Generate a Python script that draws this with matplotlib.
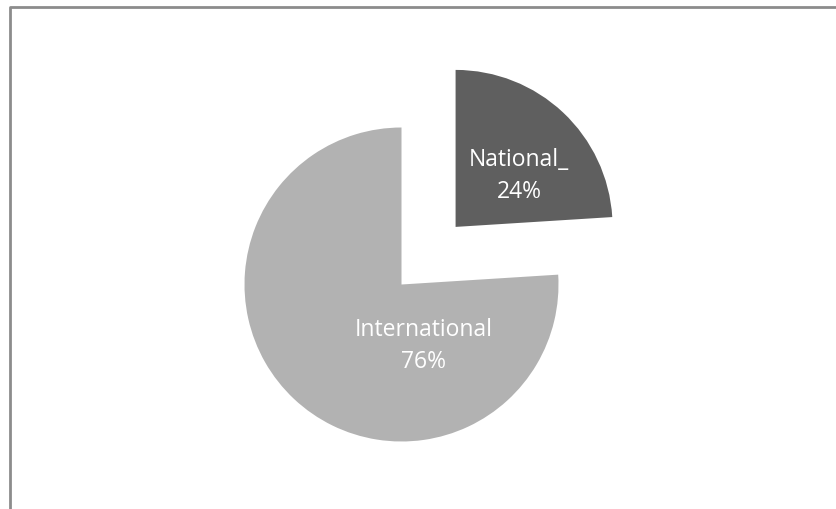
import matplotlib.pyplot as plt

# datos
categorias = ['National_', 'International']
valores = [24, 76]
colores = ['#5f5f5f', '#b2b2b2']

fig = plt.figure(figsize=(8.37, 5.09), dpi=100)
ax = fig.add_axes([0, 0, 1, 1])

# borde del area del grafico
ax.plot([10, 10, 837], [0, 502, 502], color='#8c8c8c', lw=2, solid_capstyle='butt')

# explode en pixeles (matplotlib lo toma en unidades de datos)
wedges, _ = ax.pie(valores, colors=colores, startangle=90, counterclock=False,
                   center=(401.5, 224.5), radius=157, explode=[79, 0],
                   wedgeprops={'linewidth': 0})
ax.set_xlim(0, 837)
ax.set_ylim(0, 509)
ax.set_aspect('equal')
ax.axis('off')

# etiquetas
pos = [(519, 333), (424, 163)]
for cat, v, (x, y) in zip(categorias, valores, pos):
    ax.text(x, y, f'{cat}\n{v}%', color='white', ha='center', va='center',
            fontsize=16.5, family=['Open Sans', 'DejaVu Sans'], linespacing=1.45)

fig.savefig('out.png', dpi=100)
